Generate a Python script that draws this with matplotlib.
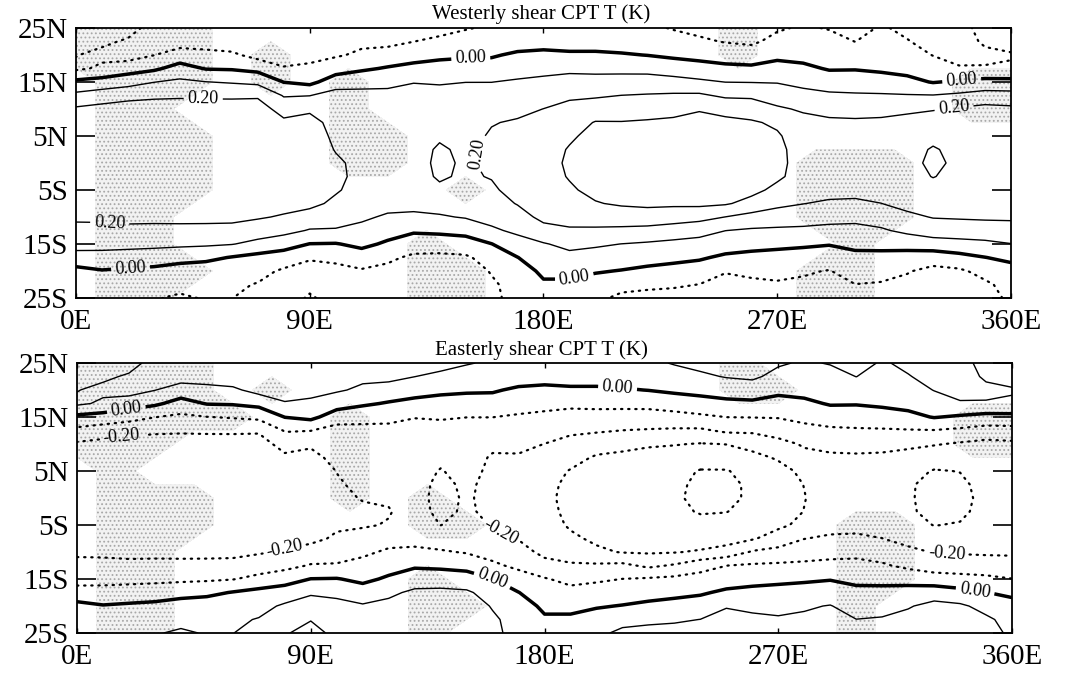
import numpy as np
import matplotlib
matplotlib.use("Agg")
import matplotlib.pyplot as plt

plt.rcParams['font.family'] = ['Liberation Serif', 'DejaVu Serif']
plt.rcParams['hatch.color'] = '#a8a8a8'
plt.rcParams['hatch.linewidth'] = 0.8

# ---------------- data ----------------
lats = [25, 22.5, 20, 17.5, 15, 12.5, 10, 7.5, 5, 2.5, 0, -2.5, -5, -7.5,
        -10, -12.5, -15, -17.5, -20, -22.5, -25]
lons = list(range(0, 361, 10))

# Westerly shear CPT T (K): one profile (25N -> 25S) per longitude
W000 = [-0.06, -0.08, -0.097, -0.117, 0.022, 0.125, 0.214, 0.24, 0.25, 0.26, 0.26, 0.26, 0.25, 0.24, 0.215, 0.175, 0.13, 0.068, -0.032, -0.06, -0.08]
W010 = [-0.07, -0.085, -0.12, -0.085, 0.04, 0.15, 0.23, 0.25, 0.26, 0.27, 0.27, 0.27, 0.26, 0.25, 0.225, 0.163, 0.127, 0.07, -0.006, -0.05, -0.07]
W020 = [-0.07, -0.11, -0.142, -0.046, 0.065, 0.167, 0.248, 0.26, 0.27, 0.27, 0.27, 0.27, 0.27, 0.26, 0.23, 0.172, 0.125, 0.062, -0.016, -0.06, -0.08]
W030 = [-0.13, -0.12, -0.102, -0.017, 0.098, 0.181, 0.25, 0.265, 0.27, 0.275, 0.275, 0.275, 0.27, 0.26, 0.23, 0.168, 0.121, 0.055, -0.026, -0.07, -0.095]
W040 = [-0.16, -0.143, -0.054, 0.036, 0.119, 0.186, 0.25, 0.265, 0.27, 0.275, 0.28, 0.28, 0.275, 0.265, 0.235, 0.165, 0.117, 0.041, -0.052, -0.08, -0.11]
W050 = [-0.16, -0.14, -0.073, -0.005, 0.102, 0.183, 0.25, 0.265, 0.27, 0.275, 0.28, 0.28, 0.275, 0.265, 0.235, 0.163, 0.114, 0.022, -0.05, -0.08, -0.095]
W060 = [-0.17, -0.156, -0.082, -0.009, 0.092, 0.182, 0.25, 0.265, 0.27, 0.275, 0.28, 0.28, 0.275, 0.265, 0.235, 0.157, 0.104, -0.005, -0.06, -0.085, -0.099]
W070 = [-0.17, -0.16, -0.133, -0.029, 0.078, 0.187, 0.245, 0.26, 0.265, 0.27, 0.275, 0.275, 0.27, 0.255, 0.21, 0.146, 0.075, -0.03, -0.07, -0.105, -0.12]
W080 = [-0.17, -0.16, -0.14, -0.093, -0.002, 0.093, 0.16, 0.22, 0.245, 0.255, 0.26, 0.26, 0.255, 0.235, 0.19, 0.13, 0.04, -0.046, -0.114, -0.14, -0.16]
W090 = [-0.17, -0.16, -0.138, -0.075, -0.025, 0.098, 0.183, 0.235, 0.25, 0.255, 0.26, 0.26, 0.25, 0.225, 0.16, 0.093, -0.002, -0.089, -0.14, -0.18, -0.21]
W100 = [-0.16, -0.14, -0.111, -0.042, 0.05, 0.14, 0.15, 0.165, 0.18, 0.195, 0.215, 0.22, 0.21, 0.18, 0.15, 0.09, -0.005, -0.08, -0.125, -0.15, -0.17]
W110 = [-0.14, -0.12, -0.083, -0.014, 0.067, 0.13, 0.145, 0.155, 0.165, 0.17, 0.175, 0.175, 0.165, 0.145, 0.115, 0.075, 0.022, -0.045, -0.11, -0.14, -0.16]
W120 = [-0.15, -0.127, -0.059, 0.008, 0.072, 0.13, 0.15, 0.16, 0.17, 0.175, 0.18, 0.175, 0.16, 0.13, 0.088, 0.038, -0.014, -0.081, -0.125, -0.15, -0.165]
W130 = [-0.13, -0.101, -0.038, 0.027, 0.095, 0.15, 0.16, 0.165, 0.165, 0.17, 0.172, 0.168, 0.16, 0.135, 0.077, 0.013, -0.053, -0.118, -0.14, -0.155, -0.165]
W140 = [-0.135, -0.077, -0.02, 0.035, 0.089, 0.14, 0.155, 0.17, 0.19, 0.21, 0.215, 0.21, 0.185, 0.14, 0.09, 0.019, -0.051, -0.123, -0.14, -0.155, -0.165]
W150 = [-0.105, -0.07, -0.013, 0.042, 0.099, 0.135, 0.15, 0.16, 0.17, 0.185, 0.19, 0.188, 0.175, 0.15, 0.107, 0.031, -0.043, -0.114, -0.135, -0.145, -0.15]
W160 = [-0.09, -0.06, -0.011, 0.044, 0.099, 0.14, 0.165, 0.195, 0.21, 0.215, 0.215, 0.205, 0.185, 0.16, 0.13, 0.085, -0.002, -0.06, -0.095, -0.11, -0.11]
W170 = [-0.08, -0.05, 0.017, 0.064, 0.11, 0.142, 0.176, 0.21, 0.235, 0.25, 0.255, 0.25, 0.235, 0.205, 0.161, 0.118, 0.063, -0.002, -0.05, -0.075, -0.085]
W180 = [-0.07, -0.04, 0.025, 0.075, 0.119, 0.16, 0.201, 0.235, 0.26, 0.27, 0.275, 0.27, 0.26, 0.24, 0.225, 0.167, 0.093, 0.057, 0.021, -0.014, -0.04]
W190 = [-0.06, -0.035, 0.013, 0.079, 0.135, 0.186, 0.225, 0.26, 0.29, 0.305, 0.31, 0.305, 0.29, 0.26, 0.235, 0.188, 0.125, 0.073, 0.027, -0.018, -0.045]
W200 = [-0.07, -0.04, 0.015, 0.076, 0.133, 0.189, 0.248, 0.305, 0.32, 0.33, 0.335, 0.33, 0.32, 0.295, 0.242, 0.186, 0.114, 0.059, 0.008, -0.04, -0.075]
W210 = [-0.075, -0.045, 0.008, 0.074, 0.138, 0.201, 0.252, 0.304, 0.325, 0.335, 0.34, 0.335, 0.325, 0.31, 0.256, 0.178, 0.099, 0.048, -0.004, -0.064, -0.124]
W220 = [-0.085, -0.05, -0.002, 0.071, 0.141, 0.207, 0.261, 0.31, 0.33, 0.34, 0.345, 0.34, 0.33, 0.315, 0.265, 0.167, 0.089, 0.036, -0.02, -0.08, -0.13]
W230 = [-0.105, -0.07, -0.017, 0.053, 0.133, 0.213, 0.275, 0.315, 0.335, 0.345, 0.35, 0.345, 0.335, 0.315, 0.25, 0.15, 0.078, 0.024, -0.032, -0.089, -0.13]
W240 = [-0.125, -0.085, -0.028, 0.036, 0.117, 0.216, 0.294, 0.325, 0.34, 0.35, 0.355, 0.35, 0.34, 0.32, 0.232, 0.134, 0.067, 0.011, -0.044, -0.101, -0.14]
W250 = [-0.14, -0.105, -0.046, 0.024, 0.099, 0.183, 0.28, 0.315, 0.335, 0.345, 0.35, 0.345, 0.33, 0.31, 0.199, 0.101, 0.044, -0.016, -0.094, -0.13, -0.15]
W260 = [-0.145, -0.115, -0.056, 0.019, 0.097, 0.183, 0.257, 0.31, 0.33, 0.34, 0.345, 0.34, 0.325, 0.271, 0.167, 0.088, 0.03, -0.026, -0.079, -0.12, -0.14]
W270 = [-0.11, -0.075, -0.022, 0.033, 0.095, 0.153, 0.214, 0.286, 0.31, 0.32, 0.32, 0.315, 0.278, 0.222, 0.155, 0.083, 0.02, -0.03, -0.074, -0.11, -0.13]
W280 = [-0.09, -0.06, -0.032, 0.021, 0.074, 0.13, 0.188, 0.23, 0.255, 0.265, 0.27, 0.265, 0.25, 0.202, 0.143, 0.081, 0.014, -0.04, -0.09, -0.115, -0.125]
W290 = [-0.105, -0.07, -0.041, -0.008, 0.055, 0.116, 0.174, 0.215, 0.24, 0.255, 0.26, 0.255, 0.235, 0.185, 0.132, 0.073, 0.005, -0.05, -0.104, -0.13, -0.14]
W300 = [-0.135, -0.101, -0.053, -0.006, 0.052, 0.111, 0.164, 0.215, 0.24, 0.255, 0.26, 0.255, 0.235, 0.179, 0.125, 0.073, 0.021, -0.023, -0.062, -0.101, -0.125]
W310 = [-0.09, -0.07, -0.045, -0.018, 0.046, 0.109, 0.166, 0.22, 0.245, 0.26, 0.265, 0.26, 0.24, 0.199, 0.144, 0.088, 0.025, -0.025, -0.067, -0.108, -0.125]
W320 = [-0.12, -0.095, -0.058, -0.03, 0.026, 0.106, 0.179, 0.235, 0.265, 0.28, 0.285, 0.28, 0.265, 0.23, 0.178, 0.122, 0.035, -0.038, -0.093, -0.125, -0.14]
W330 = [-0.15, -0.13, -0.103, -0.055, -0.005, 0.104, 0.193, 0.25, 0.285, 0.305, 0.31, 0.302, 0.28, 0.245, 0.205, 0.145, 0.059, -0.058, -0.125, -0.14, -0.15]
W340 = [-0.12, -0.13, -0.128, -0.092, 0.013, 0.119, 0.211, 0.245, 0.27, 0.285, 0.29, 0.285, 0.27, 0.245, 0.21, 0.147, 0.071, -0.032, -0.115, -0.13, -0.12]
W350 = [-0.08, -0.09, -0.115, -0.095, 0.033, 0.139, 0.229, 0.25, 0.265, 0.275, 0.28, 0.275, 0.265, 0.25, 0.215, 0.15, 0.081, -0.002, -0.071, -0.115, -0.12]
W360 = [-0.06, -0.08, -0.105, -0.092, 0.03, 0.135, 0.22, 0.245, 0.255, 0.265, 0.265, 0.265, 0.255, 0.245, 0.215, 0.16, 0.098, 0.024, -0.04, -0.07, -0.09]

# Easterly shear CPT T (K)
E000 = [0.06, 0.08, 0.097, 0.117, -0.022, -0.125, -0.214, -0.24, -0.25, -0.26, -0.26, -0.26, -0.25, -0.24, -0.215, -0.175, -0.13, -0.068, 0.032, 0.06, 0.08]
E010 = [0.07, 0.085, 0.12, 0.085, -0.04, -0.15, -0.23, -0.25, -0.26, -0.27, -0.27, -0.27, -0.26, -0.25, -0.225, -0.163, -0.127, -0.07, 0.006, 0.05, 0.07]
E020 = [0.07, 0.11, 0.142, 0.046, -0.065, -0.167, -0.248, -0.26, -0.27, -0.27, -0.27, -0.27, -0.27, -0.26, -0.23, -0.172, -0.125, -0.062, 0.016, 0.06, 0.08]
E030 = [0.13, 0.12, 0.102, 0.017, -0.098, -0.181, -0.25, -0.265, -0.27, -0.275, -0.275, -0.275, -0.27, -0.26, -0.23, -0.168, -0.121, -0.055, 0.026, 0.07, 0.095]
E040 = [0.16, 0.143, 0.054, -0.036, -0.119, -0.186, -0.25, -0.265, -0.27, -0.275, -0.28, -0.28, -0.275, -0.265, -0.235, -0.165, -0.117, -0.041, 0.052, 0.08, 0.11]
E050 = [0.16, 0.14, 0.073, 0.005, -0.102, -0.183, -0.25, -0.265, -0.27, -0.275, -0.28, -0.28, -0.275, -0.265, -0.235, -0.163, -0.114, -0.022, 0.05, 0.08, 0.095]
E060 = [0.17, 0.156, 0.082, 0.009, -0.092, -0.182, -0.25, -0.265, -0.27, -0.275, -0.28, -0.28, -0.275, -0.265, -0.235, -0.157, -0.104, 0.005, 0.06, 0.085, 0.099]
E070 = [0.17, 0.16, 0.133, 0.029, -0.078, -0.187, -0.245, -0.26, -0.265, -0.27, -0.275, -0.275, -0.27, -0.255, -0.21, -0.146, -0.075, 0.03, 0.07, 0.105, 0.12]
E080 = [0.17, 0.16, 0.14, 0.093, 0.002, -0.093, -0.16, -0.22, -0.245, -0.255, -0.26, -0.26, -0.255, -0.235, -0.19, -0.13, -0.04, 0.046, 0.114, 0.14, 0.19]
E090 = [0.17, 0.16, 0.138, 0.075, 0.025, -0.098, -0.183, -0.235, -0.25, -0.255, -0.26, -0.26, -0.25, -0.225, -0.16, -0.093, 0.002, 0.089, 0.14, 0.195, 0.24]
E100 = [0.16, 0.14, 0.111, 0.042, -0.05, -0.14, -0.15, -0.165, -0.198, -0.21, -0.22, -0.225, -0.215, -0.185, -0.15, -0.09, 0.005, 0.08, 0.125, 0.15, 0.17]
E110 = [0.14, 0.12, 0.083, 0.014, -0.067, -0.13, -0.145, -0.155, -0.17, -0.18, -0.195, -0.215, -0.208, -0.17, -0.115, -0.075, -0.022, 0.045, 0.11, 0.14, 0.16]
E120 = [0.15, 0.127, 0.059, -0.008, -0.072, -0.13, -0.15, -0.16, -0.17, -0.175, -0.19, -0.205, -0.195, -0.13, -0.088, -0.038, 0.014, 0.081, 0.125, 0.15, 0.165]
E130 = [0.13, 0.101, 0.038, -0.027, -0.095, -0.15, -0.16, -0.165, -0.165, -0.17, -0.172, -0.168, -0.16, -0.135, -0.077, -0.013, 0.053, 0.118, 0.14, 0.155, 0.165]
E140 = [0.135, 0.077, 0.02, -0.035, -0.089, -0.14, -0.155, -0.18, -0.205, -0.22, -0.225, -0.22, -0.201, -0.15, -0.09, -0.019, 0.051, 0.123, 0.14, 0.155, 0.165]
E150 = [0.105, 0.07, 0.013, -0.042, -0.099, -0.135, -0.15, -0.16, -0.17, -0.185, -0.19, -0.188, -0.175, -0.15, -0.107, -0.031, 0.043, 0.114, 0.135, 0.145, 0.15]
E160 = [0.09, 0.06, 0.011, -0.044, -0.099, -0.14, -0.18, -0.21, -0.22, -0.225, -0.225, -0.22, -0.205, -0.175, -0.13, -0.085, 0.002, 0.06, 0.095, 0.11, 0.11]
E170 = [0.08, 0.05, -0.017, -0.064, -0.11, -0.142, -0.176, -0.21, -0.235, -0.25, -0.255, -0.25, -0.235, -0.205, -0.161, -0.118, -0.063, 0.002, 0.05, 0.075, 0.085]
E180 = [0.07, 0.04, -0.025, -0.075, -0.119, -0.16, -0.201, -0.24, -0.265, -0.275, -0.28, -0.275, -0.265, -0.25, -0.225, -0.167, -0.093, -0.057, -0.021, 0.014, 0.04]
E190 = [0.06, 0.035, -0.013, -0.079, -0.135, -0.186, -0.225, -0.27, -0.305, -0.32, -0.325, -0.32, -0.31, -0.285, -0.245, -0.188, -0.125, -0.073, -0.027, 0.018, 0.045]
E200 = [0.07, 0.04, -0.015, -0.076, -0.133, -0.189, -0.26, -0.31, -0.33, -0.34, -0.345, -0.34, -0.33, -0.315, -0.285, -0.186, -0.114, -0.059, -0.008, 0.04, 0.075]
E210 = [0.075, 0.045, -0.008, -0.074, -0.138, -0.201, -0.275, -0.32, -0.34, -0.35, -0.355, -0.355, -0.35, -0.33, -0.305, -0.178, -0.099, -0.048, 0.004, 0.064, 0.124]
E220 = [0.085, 0.05, 0.002, -0.071, -0.141, -0.207, -0.29, -0.33, -0.35, -0.365, -0.37, -0.37, -0.36, -0.34, -0.31, -0.22, -0.089, -0.036, 0.02, 0.08, 0.13]
E230 = [0.105, 0.07, 0.017, -0.053, -0.133, -0.213, -0.295, -0.345, -0.375, -0.38, -0.385, -0.385, -0.37, -0.345, -0.305, -0.19, -0.078, -0.024, 0.032, 0.089, 0.13]
E240 = [0.125, 0.085, 0.028, -0.036, -0.117, -0.216, -0.305, -0.36, -0.405, -0.42, -0.425, -0.405, -0.38, -0.35, -0.29, -0.134, -0.067, -0.011, 0.044, 0.101, 0.14]
E250 = [0.14, 0.105, 0.046, -0.024, -0.099, -0.183, -0.298, -0.355, -0.405, -0.42, -0.42, -0.402, -0.375, -0.34, -0.26, -0.101, -0.044, 0.016, 0.094, 0.13, 0.15]
E260 = [0.145, 0.115, 0.056, -0.019, -0.097, -0.183, -0.27, -0.325, -0.37, -0.385, -0.385, -0.375, -0.35, -0.31, -0.19, -0.088, -0.03, 0.026, 0.079, 0.12, 0.14]
E270 = [0.11, 0.075, 0.022, -0.033, -0.095, -0.153, -0.235, -0.29, -0.33, -0.345, -0.35, -0.345, -0.32, -0.255, -0.17, -0.083, -0.02, 0.03, 0.074, 0.11, 0.13]
E280 = [0.09, 0.06, 0.032, -0.021, -0.074, -0.13, -0.188, -0.23, -0.28, -0.298, -0.303, -0.298, -0.275, -0.202, -0.143, -0.081, -0.014, 0.04, 0.09, 0.115, 0.125]
E290 = [0.105, 0.07, 0.041, 0.008, -0.055, -0.116, -0.174, -0.215, -0.24, -0.255, -0.26, -0.255, -0.235, -0.185, -0.132, -0.073, -0.005, 0.05, 0.104, 0.13, 0.14]
E300 = [0.135, 0.101, 0.053, 0.006, -0.052, -0.111, -0.164, -0.215, -0.24, -0.255, -0.26, -0.255, -0.235, -0.179, -0.125, -0.073, -0.021, 0.023, 0.062, 0.101, 0.125]
E310 = [0.09, 0.07, 0.045, 0.018, -0.046, -0.109, -0.166, -0.22, -0.245, -0.26, -0.265, -0.26, -0.24, -0.199, -0.144, -0.088, -0.025, 0.025, 0.067, 0.108, 0.125]
E320 = [0.12, 0.095, 0.058, 0.03, -0.026, -0.106, -0.179, -0.235, -0.275, -0.29, -0.29, -0.29, -0.275, -0.23, -0.178, -0.122, -0.035, 0.038, 0.093, 0.125, 0.14]
E330 = [0.15, 0.13, 0.103, 0.055, 0.005, -0.104, -0.193, -0.26, -0.305, -0.325, -0.33, -0.32, -0.302, -0.26, -0.205, -0.145, -0.059, 0.058, 0.125, 0.14, 0.15]
E340 = [0.12, 0.13, 0.128, 0.092, -0.013, -0.119, -0.211, -0.26, -0.298, -0.315, -0.32, -0.315, -0.295, -0.26, -0.21, -0.147, -0.071, 0.032, 0.115, 0.13, 0.12]
E350 = [0.08, 0.09, 0.115, 0.095, -0.033, -0.139, -0.229, -0.25, -0.265, -0.275, -0.28, -0.275, -0.265, -0.25, -0.215, -0.15, -0.081, 0.002, 0.071, 0.115, 0.12]
E360 = [0.06, 0.08, 0.105, 0.092, -0.03, -0.135, -0.22, -0.245, -0.255, -0.265, -0.265, -0.265, -0.255, -0.245, -0.215, -0.16, -0.098, -0.024, 0.04, 0.07, 0.09]

westerly_profiles = [W000, W010, W020, W030, W040, W050, W060, W070, W080, W090,
                     W100, W110, W120, W130, W140, W150, W160, W170, W180, W190,
                     W200, W210, W220, W230, W240, W250, W260, W270, W280, W290,
                     W300, W310, W320, W330, W340, W350, W360]
easterly_profiles = [E000, E010, E020, E030, E040, E050, E060, E070, E080, E090,
                     E100, E110, E120, E130, E140, E150, E160, E170, E180, E190,
                     E200, E210, E220, E230, E240, E250, E260, E270, E280, E290,
                     E300, E310, E320, E330, E340, E350, E360]

west_levels = [-0.2, -0.1, 0.0, 0.1, 0.2, 0.3]
east_levels = [-0.4, -0.3, -0.2, -0.1, 0.0, 0.1, 0.2]

# stippled (significant) areas, 1 = shaded; rows 25N..25S every 5, cols 0..360 every 15
shade_lons = list(range(0, 361, 15))
shade_lats = [25, 20, 15, 10, 5, 0, -5, -10, -15, -20, -25]
west_shade = ["1111000000000000010000000",
              "1111010000000000010000000",
              "0111010100000000000000011",
              "0110000100000000000000011",
              "0111000110000000000000000",
              "0111000110000000000111000",
              "0111000000100000000111000",
              "0110000000000000000111000",
              "0110000001000000000010000",
              "0111000001100000000110000",
              "0110000001100000000110000"]
east_shade = ["1111000000000000010000000",
              "1111010000000000011000000",
              "1111100100000000000000011",
              "1110000100000000000000011",
              "0100000100000000000000000",
              "0111000101000000000000000",
              "0111000001100000000011000",
              "0110000000000000000011000",
              "0110000001000000000011000",
              "0110000001100000000010000",
              "0110000001000000000010000"]

xtick_vals = [0, 90, 180, 270, 360]
xtick_labels = ['0E', '90E', '180E', '270E', '360E']
ytick_vals = [25, 15, 5, -5, -15, -25]
ytick_labels = ['25N', '15N', '5N', '5S', '15S', '25S']
titles = ['Westerly shear CPT T (K)', 'Easterly shear CPT T (K)']

# label placement (lon, lat)
west_label_at = {'neg': [], 'zero': [(152, 19.5), (21, -19.3), (192, -21.5), (341, 15.5)],
                 'pos': [(49, 12.0), (157, 1.5), (13, -11.0), (338, 10.5)]}
east_label_at = {'neg': [(17, 11.5), (80, -9.6), (163, -6.5), (335, -10.0)],
                 'zero': [(19, 16.3), (208, 19.5), (160, -15.0), (346, -16.5)],
                 'pos': []}

# ---------------- figure ----------------
fig = plt.figure(figsize=(10.67, 6.73), dpi=100)
ax_top = fig.add_axes([0.0712, 0.5572, 0.8763, 0.4012])
ax_bot = fig.add_axes([0.0722, 0.0594, 0.8763, 0.4012])


def draw_panel(ax, profiles, levels, shade, label_at):
    Z = np.array(profiles, dtype=float).T
    S = np.array([[int(c) for c in row] for row in shade], dtype=float)
    ax.contourf(shade_lons, shade_lats, S, levels=[0.5, 1.5],
                colors=['#f2f2f2'], hatches=['....'], zorder=0)
    neg = [v for v in levels if v < -1e-9]
    pos = [v for v in levels if v > 1e-9]
    cn = ax.contour(lons, lats, Z, levels=neg, colors='k', linewidths=1.6, zorder=2)
    cn.set_linestyle((0, (0.6, 2.6)))
    cn.set_capstyle('round')
    cz = ax.contour(lons, lats, Z, levels=[0.0], colors='k', linewidths=2.5, zorder=2)
    cp = ax.contour(lons, lats, Z, levels=pos, colors='k', linewidths=1.0, zorder=2)
    for cs, key in ((cn, 'neg'), (cz, 'zero'), (cp, 'pos')):
        if label_at[key]:
            ax.clabel(cs, manual=label_at[key], fmt='%.2f', fontsize=13,
                      inline=True, inline_spacing=4)
    ax.set_xlim(0, 360)
    ax.set_ylim(-25, 25)
    ax.set_xticks(xtick_vals)
    ax.set_xticklabels(xtick_labels)
    ax.set_yticks(ytick_vals)
    ax.set_yticklabels(ytick_labels)
    ax.tick_params(axis='y', direction='in', length=13.5, width=1.2,
                   left=True, right=True, labelsize=21, pad=6)
    ax.tick_params(axis='x', direction='in', length=3.5, width=1.0,
                   top=True, bottom=True, labelsize=21, pad=8)
    for sp in ax.spines.values():
        sp.set_linewidth(1.3)


draw_panel(ax_top, westerly_profiles, west_levels, west_shade, west_label_at)
draw_panel(ax_bot, easterly_profiles, east_levels, east_shade, east_label_at)

fig.text(0.507, 0.979, titles[0], ha='center', va='center', fontsize=15)
fig.text(0.507, 0.480, titles[1], ha='center', va='center', fontsize=15)

fig.savefig('out.png', dpi=100)
